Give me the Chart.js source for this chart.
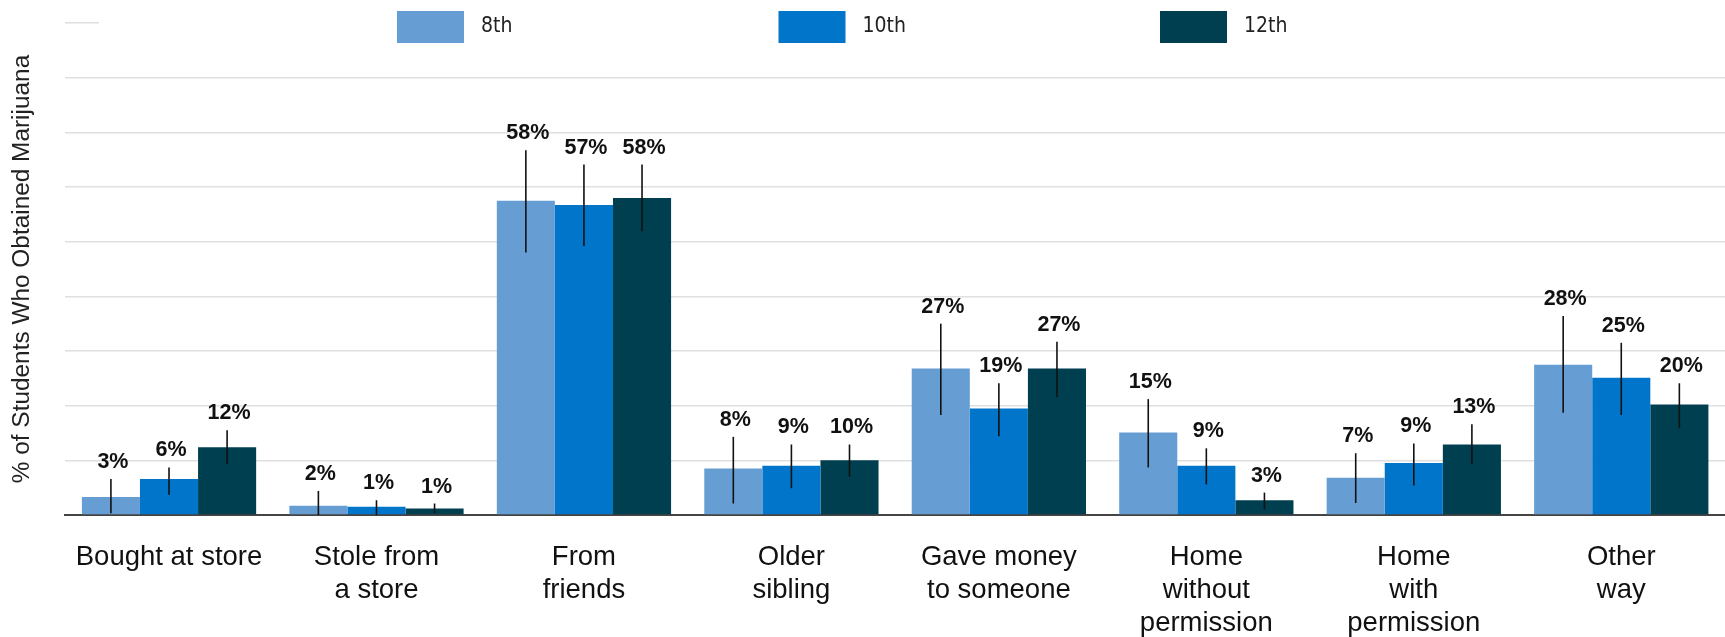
<!DOCTYPE html>
<html>
<head>
<meta charset="utf-8">
<script src="https://cdn.jsdelivr.net/npm/chart.js@4.4.1/dist/chart.umd.min.js"></script>
<style>
  html, body { margin: 0; padding: 0; background: #fff; }
  #wrap { width: 1725px; height: 637px; position: relative; }
</style>
</head>
<body>
<div id="wrap"><canvas id="chart"></canvas></div>
<script>
const categories = [
    ['Bought at store'],
    ['Stole from', 'a store'],
    ['From', 'friends'],
    ['Older', 'sibling'],
    ['Gave money', 'to someone'],
    ['Home', 'without', 'permission'],
    ['Home', 'with', 'permission'],
    ['Other', 'way']
];
const grades = ['8th', '10th', '12th'];
const colors = ['#669ed4', '#0075c9', '#003f50'];

// bar heights
const values8 = [3.3, 1.7, 57.5, 8.5, 26.8, 15.1, 6.8, 27.5];
const values10 = [6.6, 1.5, 56.7, 9.0, 19.5, 9.0, 9.5, 25.1];
const values12 = [12.4, 1.2, 58.0, 10.0, 26.8, 2.7, 12.9, 20.2];

// printed labels
const labels8 = [3, 2, 58, 8, 27, 15, 7, 28];
const labels10 = [6, 1, 57, 9, 19, 9, 9, 25];
const labels12 = [12, 1, 58, 10, 27, 3, 13, 20];

// error bar ends
const low8 = [0.3, 0, 48.0, 2.1, 18.3, 8.7, 2.2, 18.7];
const high8 = [6.6, 4.4, 66.7, 14.3, 35.0, 21.2, 11.3, 36.4];
const low10 = [3.7, 0, 49.2, 4.9, 14.4, 5.6, 5.4, 18.3];
const high10 = [8.7, 2.7, 64.1, 12.9, 24.1, 12.2, 13.1, 31.5];
const low12 = [9.3, 0.3, 51.9, 7.0, 21.6, 1.0, 9.3, 15.9];
const high12 = [15.5, 2.1, 64.1, 12.9, 31.7, 4.1, 16.6, 24.1];

const yTicks = [0, 10, 20, 30, 40, 50, 60, 70, 80, 90];

const FONT = '"Liberation Sans", Arial, sans-serif';
const series = [
    { values: values8, labels: labels8, low: low8, high: high8 },
    { values: values10, labels: labels10, low: low10, high: high10 },
    { values: values12, labels: labels12, low: low12, high: high12 }
];

// white legend strip over the top gridline, then the three swatches
const legendStrip = {
    id: 'legendStrip',
    beforeDatasetsDraw(chart) {
        const ctx = chart.ctx;
        ctx.save();
        ctx.fillStyle = '#fff';
        ctx.fillRect(99, 0, chart.width - 99, 46);
        grades.forEach((g, i) => {
            const x = 397 + i * 381.5;
            ctx.fillStyle = colors[i];
            ctx.fillRect(x, 11, 67, 32);
            ctx.fillStyle = '#222';
            ctx.font = '21px "DejaVu Sans Condensed", "DejaVu Sans", sans-serif';
            ctx.textBaseline = 'middle';
            ctx.textAlign = 'left';
            ctx.fillText(g, x + 84, 27);
        });
        ctx.restore();
    }
};

const errorBars = {
    id: 'errorBars',
    afterDatasetsDraw(chart) {
        const ctx = chart.ctx;
        const y = chart.scales.y;
        ctx.save();
        series.forEach((s, i) => {
            chart.getDatasetMeta(i).data.forEach((bar, j) => {
                const top = y.getPixelForValue(s.high[j]);
                const bot = y.getPixelForValue(s.low[j]);
                ctx.strokeStyle = '#111';
                ctx.lineWidth = 1.6;
                ctx.beginPath();
                ctx.moveTo(bar.x, top);
                ctx.lineTo(bar.x, bot);
                ctx.stroke();
                ctx.fillStyle = '#111';
                ctx.font = 'bold 21.5px ' + FONT;
                ctx.textAlign = 'center';
                ctx.textBaseline = 'alphabetic';
                ctx.fillText(s.labels[j] + '%', bar.x + 2, top - 11);
            });
        });
        ctx.restore();
    }
};

new Chart(document.getElementById('chart'), {
    type: 'bar',
    data: {
        labels: categories,
        datasets: series.map((s, i) => ({
            label: grades[i],
            data: s.values,
            backgroundColor: colors[i],
            borderWidth: 0,
            categoryPercentage: 0.84,
            barPercentage: 1.0
        }))
    },
    options: {
        responsive: true,
        maintainAspectRatio: false,
        animation: false,
        layout: { padding: { top: 23, left: 0, right: 0, bottom: 0 } },
        plugins: {
            legend: { display: false },
            tooltip: { enabled: false }
        },
        scales: {
            x: {
                grid: { display: false, drawTicks: false },
                border: { display: true, color: '#444', width: 2 },
                afterFit: (axis) => { axis.height = 122; },
                ticks: {
                    color: '#111',
                    padding: 26,
                    maxRotation: 0,
                    autoSkip: false,
                    font: { family: FONT, size: 27.5, lineHeight: 1.2 }
                }
            },
            y: {
                min: yTicks[0],
                max: yTicks[yTicks.length - 1],
                afterBuildTicks: (axis) => { axis.ticks = yTicks.map(v => ({ value: v })); },
                grid: { color: '#e0e0e0', lineWidth: 1.5, drawTicks: false },
                border: { display: false },
                ticks: { display: false },
                title: {
                    display: true,
                    text: '% of Students Who Obtained Marijuana',
                    color: '#222',
                    font: { family: FONT, size: 24.4, lineHeight: 1.2 },
                    padding: { top: 8, bottom: 28 }
                }
            }
        }
    },
    plugins: [legendStrip, errorBars]
});
</script>
</body>
</html>
